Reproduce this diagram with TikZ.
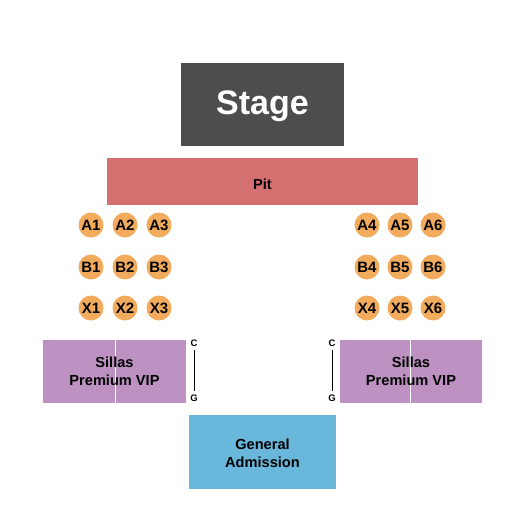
\documentclass[tikz,border=0pt]{standalone}
\usepackage{fontspec}
\setmainfont{Liberation Sans}
\definecolor{stagec}{HTML}{4D4D4D}
\definecolor{pitc}{HTML}{D47070}
\definecolor{seatc}{HTML}{F2AA5C}
\definecolor{vipc}{HTML}{BD92C3}
\definecolor{gac}{HTML}{6AB7DC}
\begin{document}
\begin{tikzpicture}[x=1pt,y=-1pt,
  sect/.style={inner sep=0pt, align=center, font=\bfseries\fontsize{14.6}{18}\selectfont},
  seat/.style={circle, fill=seatc, minimum size=25pt, inner sep=0pt, font=\bfseries\fontsize{15}{15}\selectfont},
  cg/.style={font=\bfseries\fontsize{9.5}{9.5}\selectfont, inner sep=0pt}]
\useasboundingbox (0,0) rectangle (525,525);
% Stage
\fill[stagec] (181,63) rectangle (344,146);
\node[sect, text=white, font=\bfseries\fontsize{34}{36}\selectfont] (stage) at (262.5,106) {Stage};
% Pit
\fill[pitc] (107,158) rectangle (418,205);
\node[sect] (pit) at (262.5,184) {Pit};
% seats
\foreach \r/\y in {A/225,B/267,X/308}{
  \node[seat] (\r1) at (91,\y) {\r1};
  \node[seat] (\r2) at (125,\y) {\r2};
  \node[seat] (\r3) at (159,\y) {\r3};
  \node[seat] (\r4) at (367,\y) {\r4};
  \node[seat] (\r5) at (400,\y) {\r5};
  \node[seat] (\r6) at (433,\y) {\r6};
}
% Sillas left
\fill[vipc] (43,340) rectangle (186,403);
\draw[white, line width=1pt] (115,340) -- (115,403);
\node[sect] (vipl) at (114.5,371) {Sillas\\Premium VIP};
% Sillas right
\fill[vipc] (340,340) rectangle (482,403);
\draw[white, line width=1pt] (410,340) -- (410,403);
\node[sect] (vipr) at (411,371) {Sillas\\Premium VIP};
% C/G markers
\node[cg] (cl) at (194,343) {C};
\node[cg] (gl) at (194,398) {G};
\draw[black, line width=1pt] ([yshift=-3pt]cl.south) -- ([yshift=3pt]gl.north);
\node[cg] (cr) at (332,343) {C};
\node[cg] (gr) at (332,398) {G};
\draw[black, line width=1pt] ([yshift=-3pt]cr.south) -- ([yshift=3pt]gr.north);
% GA
\fill[gac] (189,415) rectangle (336,489);
\node[sect] (ga) at (262.5,453) {General\\Admission};
\end{tikzpicture}
\end{document}
